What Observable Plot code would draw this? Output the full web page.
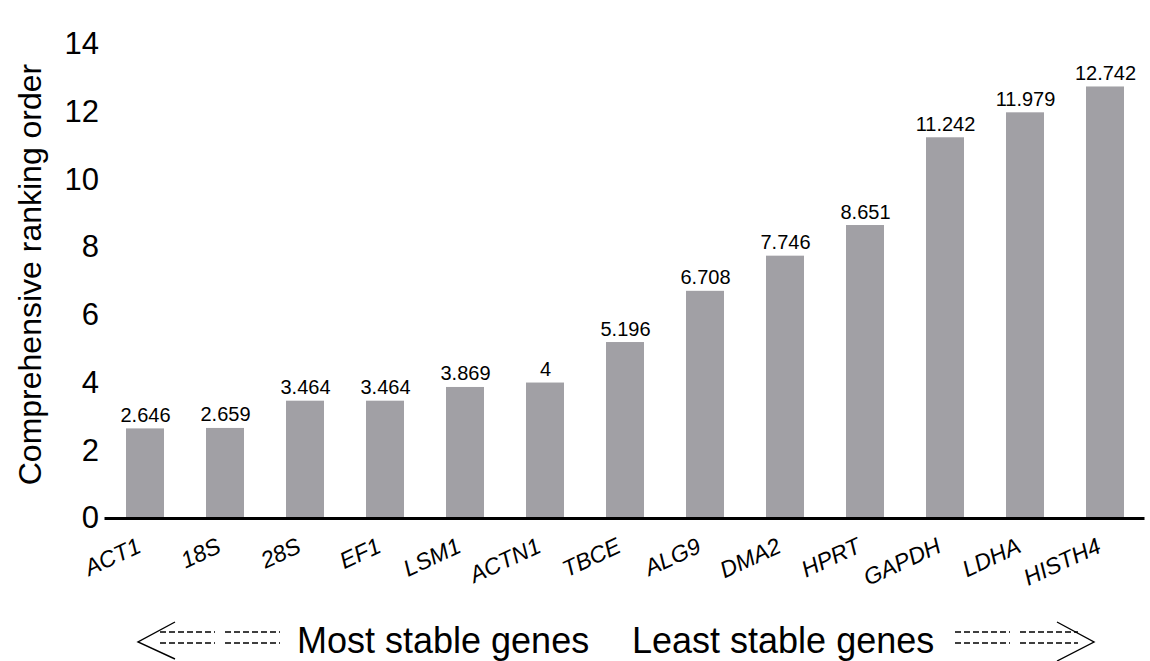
<!DOCTYPE html>
<html>
<head>
<meta charset="utf-8">
<script src="https://cdn.jsdelivr.net/npm/d3@7"></script>
<script src="https://cdn.jsdelivr.net/npm/@observablehq/plot@0.6"></script>
<style>
  html, body { margin: 0; padding: 0; background: #fff; }
  #chart svg { display: block; }
  #caption { display: block; }
</style>
</head>
<body>
<div id="chart"></div>
<svg id="caption" width="1150" height="61" font-family="'Liberation Sans', Arial, sans-serif">
  <g stroke="#000" stroke-width="1.4" fill="none">
    <polyline points="175,22 138,42 175,59"/>
    <line x1="160" y1="32" x2="215" y2="32" stroke-dasharray="6,3"/>
    <line x1="225" y1="32" x2="280" y2="32" stroke-dasharray="6,3"/>
    <line x1="160" y1="43" x2="215" y2="43" stroke-dasharray="6,3"/>
    <line x1="225" y1="43" x2="280" y2="43" stroke-dasharray="6,3"/>
    <polyline points="1057,22 1094,42 1057,61"/>
    <line x1="955" y1="32" x2="1010" y2="32" stroke-dasharray="6,3"/>
    <line x1="1020" y1="32" x2="1078" y2="32" stroke-dasharray="6,3"/>
    <line x1="955" y1="43" x2="1010" y2="43" stroke-dasharray="6,3"/>
    <line x1="1020" y1="43" x2="1078" y2="43" stroke-dasharray="6,3"/>
  </g>
  <text x="297" y="53" font-size="36" fill="#000">Most stable genes</text>
  <text x="632" y="53" font-size="36" fill="#000">Least stable genes</text>
</svg>
<script>
const genes = ["ACT1", "18S", "28S", "EF1", "LSM1", "ACTN1", "TBCE", "ALG9", "DMA2", "HPRT", "GAPDH", "LDHA", "HISTH4"];
const values = [2.646, 2.659, 3.464, 3.464, 3.869, 4, 5.196, 6.708, 7.746, 8.651, 11.242, 11.979, 12.742];
const yTicks = [0, 2, 4, 6, 8, 10, 12, 14];
const yLabel = "Comprehensive ranking order";

const data = genes.map((g, i) => ({gene: g, value: values[i]}));
const font = "'Liberation Sans', Arial, sans-serif";

const chart = Plot.plot({
  width: 1150,
  height: 600,
  marginLeft: 104.5,
  marginRight: 5.5,
  marginTop: 10,
  marginBottom: 82,
  style: {fontFamily: font, color: "#000", background: "#fff"},
  x: {domain: genes, paddingInner: 0.525, paddingOuter: 0.2625, axis: null},
  y: {domain: [0, 15]},
  marks: [
    Plot.barY(data, {x: "gene", y: "value", fill: "#a1a0a5"}),
    Plot.ruleY([0], {stroke: "#000", strokeWidth: 3}),
    Plot.axisY({ticks: yTicks, tickSize: 0, tickPadding: 6, fontSize: 31, line: true, strokeWidth: 3, label: null, tickFormat: d => String(d)}),
    Plot.text(data, {x: "gene", y: "value", text: d => String(d.value), dy: -7, lineAnchor: "bottom", fontSize: 20, fill: "#000"}),
    Plot.text(data, {x: "gene", frameAnchor: "bottom", text: "gene", dx: -3, dy: 33, rotate: -25, textAnchor: "end", fontSize: 23, fontStyle: "italic", fill: "#000"}),
    Plot.text([yLabel], {frameAnchor: "left", text: d => d, rotate: -90, textAnchor: "middle", dx: -74, dy: 10, fontSize: 32, fill: "#000"})
  ]
});
document.getElementById("chart").appendChild(chart);
</script>
</body>
</html>
